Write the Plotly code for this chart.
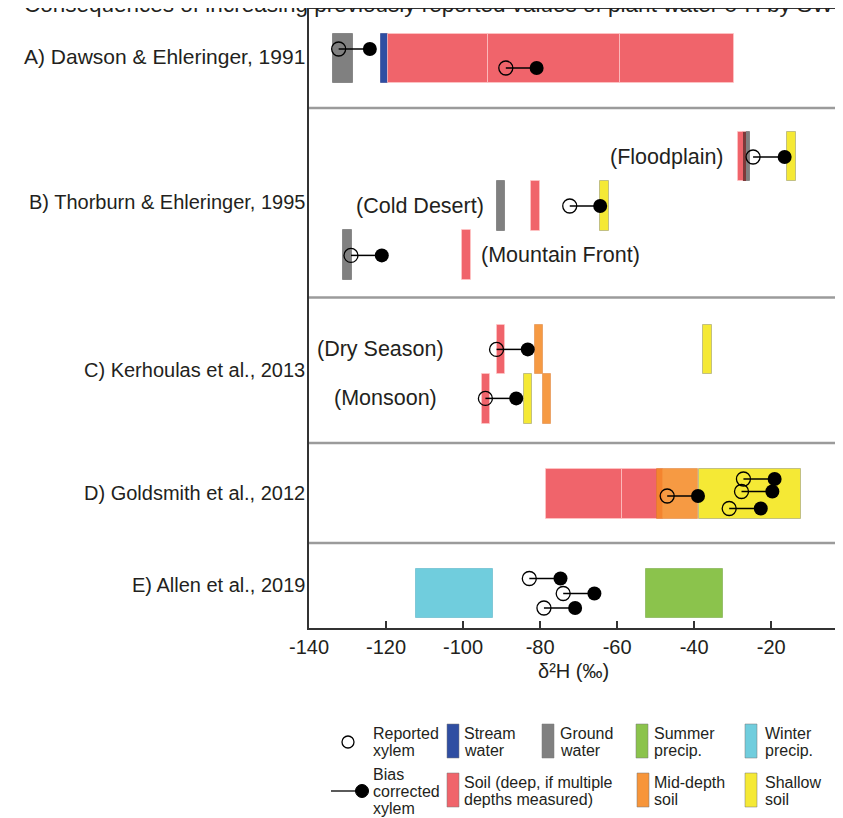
import plotly.graph_objects as go

# ---------------- data (δ2H, ‰) ----------------
study_labels = ["A) Dawson & Ehleringer, 1991", "B) Thorburn & Ehleringer, 1995",
                "C) Kerhoulas et al., 2013", "D) Goldsmith et al., 2012", "E) Allen et al., 2019"]
site_labels = ["(Floodplain)", "(Cold Desert)", "(Mountain Front)", "(Dry Season)", "(Monsoon)"]

# source-water ranges
bar_row = ["A", "A", "A", "A", "A",
           "B1", "B1", "B1", "B2", "B2", "B2", "B3", "B3",
           "C1", "C1", "C1", "C2", "C2", "C2",
           "D", "D", "D", "D",
           "E", "E"]
bar_source = ["ground", "stream", "soil", "soil", "soil",
              "soil", "ground", "shallow", "ground", "soil", "shallow", "ground", "soil",
              "soil", "mid", "shallow", "soil", "shallow", "mid",
              "soil", "soil", "mid", "shallow",
              "winter", "summer"]
bar_low = [-133.8, -121.3, -119.6, -93.5, -59.2,
           -28.5, -27.4, -15.8, -91.3, -82.3, -64.5, -131.1, -100.2,
           -91.3, -81.3, -37.6, -95.2, -84.2, -79.3,
           -78.5, -58.8, -49.6, -38.7,
           -112.3, -52.5]
bar_high = [-128.5, -119.6, -93.5, -59.2, -29.6,
            -26.5, -25.6, -13.6, -89.0, -80.1, -62.2, -128.8, -98.0,
            -89.0, -79.3, -35.4, -93.0, -82.2, -77.1,
            -58.8, -48.0, -39.1, -12.2,
            -92.1, -32.5]

# xylem water: reported vs bias corrected
xylem_row = ["A", "A", "B1", "B2", "B3", "C1", "C2", "D", "D", "D", "D", "E", "E", "E"]
xylem_reported = [-132.3, -88.9, -24.7, -72.3, -129.1, -91.3, -94.2,
                  -27.2, -27.7, -30.9, -47.0, -82.8, -74.0, -79.0]
xylem_corrected = [-124.2, -80.9, -16.5, -64.4, -121.1, -83.2, -86.2,
                   -19.1, -19.7, -22.7, -39.0, -74.7, -65.9, -70.9]

x_ticks = [-140, -120, -100, -80, -60, -40, -20]

# ---------------- layout constants ----------------
# page body has an 8px margin: figure is 835x810 so that it fills the 843x818 window
W, H = 835, 810
OFF = 8
P_LEFT, P_RIGHT, P_TOP, P_BOT = 309, 843, 9, 628     # plot area in window pixels
ML, MR, MT, MB = P_LEFT - OFF, 0, P_TOP - OFF, (H + OFF) - P_BOT
X_RANGE = [-140, -1.35]
Y_RANGE = [P_BOT, P_TOP]          # y axis expressed in window-pixel units

ROW_Y = {"A": 58.5, "B1": 156.5, "B2": 205.8, "B3": 255, "C1": 349.5, "C2": 399,
         "D": 494, "E": 593.6}
BAR_H = 49.5
XYLEM_Y = [49, 68, 157, 206, 255.4, 349.4, 398.4, 479, 491.5, 508.5, 496, 578.5, 593.5, 608]
PANEL_EDGES = [108, 297.5, 443, 543]
STUDY_Y = [57, 202, 370, 493, 585]
STUDY_SIZE = [21, 20, 20, 20, 20]
SITE_POS = [(726, 157, "right"), (486, 206, "right"), (479, 255, "left"),
            (446, 349, "right"), (439, 398, "right")]

FONT = "Liberation Sans, Arial, sans-serif"
TXT = "#231f20"

SOURCE_STYLE = {
    "stream": dict(color="#2f4ea2", line="rgba(40,60,140,0.6)", opacity=1.0),
    "ground": dict(color="#808080", line="rgba(100,100,100,0.6)", opacity=1.0),
    "summer": dict(color="#8bc34c", line="rgba(120,170,70,0.6)", opacity=1.0),
    "winter": dict(color="#70cddd", line="rgba(90,180,200,0.6)", opacity=1.0),
    "soil": dict(color="#f0646b", line="rgba(255,200,200,0.7)", opacity=1.0),
    "mid": dict(color="#f58a25", line="rgba(220,120,40,0.6)", opacity=0.86),
    "shallow": dict(color="#f5e935", line="rgba(170,170,120,0.7)", opacity=1.0),
}
LEGEND_MID = "#f7953a"
OVERLAP_COLOR = "#7d3a3a"


def px(x):
    return (x - P_LEFT) / (P_RIGHT - P_LEFT)


def py(y):
    return (P_BOT - y) / (P_BOT - P_TOP)


fig = go.Figure()

# source water bars, one trace per source
for src, st in SOURCE_STYLE.items():
    idx = [i for i, s in enumerate(bar_source) if s == src]
    if not idx:
        continue
    fig.add_trace(go.Bar(
        orientation="h",
        y=[ROW_Y[bar_row[i]] for i in idx],
        base=[bar_low[i] for i in idx],
        x=[bar_high[i] - bar_low[i] for i in idx],
        width=BAR_H,
        marker=dict(color=st["color"], line=dict(color=st["line"], width=1)),
        opacity=st["opacity"],
        showlegend=False, hoverinfo="skip"))

# soil / ground-water overlap (darker band)
ov_y, ov_b, ov_x = [], [], []
for i, si in enumerate(bar_source):
    if si != "soil":
        continue
    for j, sj in enumerate(bar_source):
        if sj == "ground" and bar_row[j] == bar_row[i]:
            lo, hi = max(bar_low[i], bar_low[j]), min(bar_high[i], bar_high[j])
            if hi > lo:
                ov_y.append(ROW_Y[bar_row[i]]); ov_b.append(lo); ov_x.append(hi - lo)
if ov_y:
    fig.add_trace(go.Bar(orientation="h", y=ov_y, base=ov_b, x=ov_x, width=BAR_H,
                         marker=dict(color=OVERLAP_COLOR, line=dict(width=0)),
                         showlegend=False, hoverinfo="skip"))

# connectors
cx, cy = [], []
for r, c, y in zip(xylem_reported, xylem_corrected, XYLEM_Y):
    cx += [r, c, None]
    cy += [y, y, None]
fig.add_trace(go.Scatter(x=cx, y=cy, mode="lines", line=dict(color="black", width=1.5),
                         showlegend=False, hoverinfo="skip"))
fig.add_trace(go.Scatter(x=xylem_reported, y=XYLEM_Y, mode="markers",
                         marker=dict(symbol="circle-open", size=14, color="black",
                                     line=dict(width=1.3)),
                         showlegend=False, hoverinfo="skip"))
fig.add_trace(go.Scatter(x=xylem_corrected, y=XYLEM_Y, mode="markers",
                         marker=dict(symbol="circle", size=14, color="black"),
                         showlegend=False, hoverinfo="skip"))

shapes = []
for e in PANEL_EDGES:
    shapes.append(dict(type="line", xref="paper", yref="y", x0=0, x1=1, y0=e, y1=e,
                       line=dict(color="#9b9b9b", width=2.5)))

ann = []
# heading, cut off at the top edge as in the original
ann.append(dict(text="Consequences of increasing previously reported values of plant water δ²H by SW",
                x=px(22), y=py(19), xref="paper", yref="paper", xanchor="left", yanchor="bottom",
                showarrow=False, font=dict(family=FONT, size=22.5, color=TXT)))
for lab, y, s in zip(study_labels, STUDY_Y, STUDY_SIZE):
    ann.append(dict(text=lab, x=px(307), y=py(y), xref="paper", yref="paper",
                    xanchor="right", yanchor="middle", showarrow=False,
                    font=dict(family=FONT, size=s, color=TXT)))
for lab, (x, y, anc) in zip(site_labels, SITE_POS):
    ann.append(dict(text=lab, x=px(x), y=py(y), xref="paper", yref="paper",
                    xanchor=anc, yanchor="middle", showarrow=False,
                    font=dict(family=FONT, size=21.5, color=TXT)))
ann.append(dict(text="δ²H (‰)", x=px(573), y=py(671), xref="paper", yref="paper",
                xanchor="center", yanchor="middle", showarrow=False,
                font=dict(family=FONT, size=20, color=TXT)))

# ---------------- legend (drawn manually) ----------------
LEG_FONT = dict(family=FONT, size=16, color=TXT)
legend_swatches = [("stream", 447, 724, 758), ("ground", 542, 724, 758),
                   ("summer", 636, 724, 758), ("winter", 745, 724, 758),
                   ("soil", 447, 773, 807), ("mid", 637, 773, 807), ("shallow", 745, 773, 807)]
for src, x0, y0, y1 in legend_swatches:
    col = LEGEND_MID if src == "mid" else SOURCE_STYLE[src]["color"]
    shapes.append(dict(type="rect", xref="paper", yref="paper",
                       x0=px(x0), x1=px(x0 + 12), y0=py(y1), y1=py(y0),
                       fillcolor=col, line=dict(color="rgba(120,120,120,0.5)", width=1)))
legend_text = [("Reported", 371, 733), ("xylem", 371, 750),
               ("Stream", 462, 733), ("water", 462, 750),
               ("Ground", 558, 733), ("water", 558, 750),
               ("Summer", 652, 733), ("precip.", 652, 750),
               ("Winter", 763, 733), ("precip.", 763, 750),
               ("Bias", 371, 774), ("corrected", 371, 791), ("xylem", 371, 808),
               ("Soil (deep, if multiple", 462, 782), ("depths measured)", 462, 799),
               ("Mid-depth", 652, 782), ("soil", 652, 799),
               ("Shallow", 763, 782), ("soil", 763, 799)]
for t, x, y in legend_text:
    ann.append(dict(text=t, x=px(x), y=py(y), xref="paper", yref="paper",
                    xanchor="left", yanchor="middle", showarrow=False, font=LEG_FONT))
# open circle
shapes.append(dict(type="circle", xref="paper", yref="paper",
                   x0=px(342), x1=px(354), y0=py(748), y1=py(736),
                   line=dict(color="black", width=1.3), fillcolor="white"))
# line + filled circle
shapes.append(dict(type="line", xref="paper", yref="paper",
                   x0=px(331), x1=px(358), y0=py(791), y1=py(791),
                   line=dict(color="black", width=1.3)))
shapes.append(dict(type="circle", xref="paper", yref="paper",
                   x0=px(355.5), x1=px(368.5), y0=py(797.5), y1=py(784.5),
                   line=dict(color="black", width=1), fillcolor="black"))

fig.update_layout(
    width=W, height=H, margin=dict(l=ML, r=MR, t=MT, b=MB, autoexpand=False),
    paper_bgcolor="white", plot_bgcolor="white",
    barmode="overlay", bargap=0,
    shapes=shapes, annotations=ann,
    xaxis=dict(range=X_RANGE, tickvals=x_ticks, ticktext=[str(v) for v in x_ticks],
               ticks="inside", ticklen=7, tickwidth=2, tickcolor="#333",
               showline=True, linewidth=2, linecolor="#333", mirror=True,
               showgrid=False, zeroline=False,
               tickfont=dict(family=FONT, size=20, color=TXT)),
    yaxis=dict(range=Y_RANGE, showline=True, linewidth=2, linecolor="#333",
               showticklabels=False, ticks="", showgrid=False, zeroline=False),
)

fig.write_html("out.html")
